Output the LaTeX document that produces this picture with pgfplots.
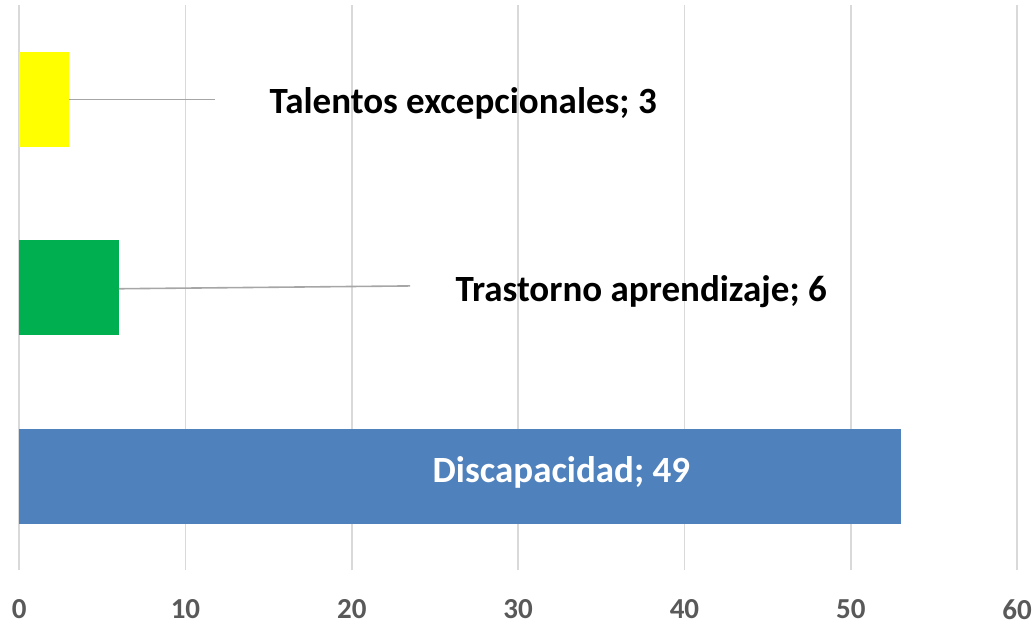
\documentclass[border=0pt]{standalone}
\usepackage{pgfplots}
\pgfplotsset{compat=1.18}
\usepackage{fontspec}
\setmainfont{Carlito}
\definecolor{cyellow}{HTML}{FFFF00}
\definecolor{cgreen}{HTML}{00B050}
\definecolor{cblue}{HTML}{4F81BD}
\definecolor{tickgray}{HTML}{595959}
\definecolor{gridgray}{HTML}{D9D9D9}
\begin{document}
\begin{tikzpicture}[x=1pt,y=1pt]
\useasboundingbox (0,0) rectangle (517.5,312);
\begin{axis}[
  at={(11.5,28.5)}, anchor=south west,
  scale only axis, width=499pt, height=282.5pt,
  xbar, bar shift=0pt, bar width=47.5pt,
  xmin=0, xmax=60, ymin=-0.5, ymax=2.5,
  axis line style={draw=none},
  ytick=\empty,
  xtick={0,10,...,60},
  xmajorgrids, grid style={draw=gridgray, line width=0.8pt},
  major tick length=0pt,
  /pgf/number format/assume math mode=true,
  xticklabel style={font=\bfseries\fontsize{14.5}{15}\selectfont, text=tickgray, anchor=center, yshift=-19.5pt},
  clip=false,
]
\addplot[draw=none, fill=cblue] coordinates {(53,0)};
\addplot[draw=none, fill=cgreen] coordinates {(6,1)};
\addplot[draw=none, fill=cyellow] coordinates {(3,2)};
\draw[gray!70, line width=0.8pt] (axis cs:3,2) -- (axis cs:11.8,2);
\draw[gray!70, line width=0.8pt] (axis cs:6,0.995) -- (axis cs:23.5,1.01);
\node[font=\bfseries\fontsize{18.5}{22}\selectfont] at (axis cs:26.7,1.98) {Talentos excepcionales; 3};
\node[font=\bfseries\fontsize{18.5}{22}\selectfont] at (axis cs:37.4,0.98) {Trastorno aprendizaje; 6};
\node[font=\bfseries\fontsize{18.5}{22}\selectfont, text=white] at (axis cs:32.6,0.02) {Discapacidad; 49};
\end{axis}
\end{tikzpicture}
\end{document}
